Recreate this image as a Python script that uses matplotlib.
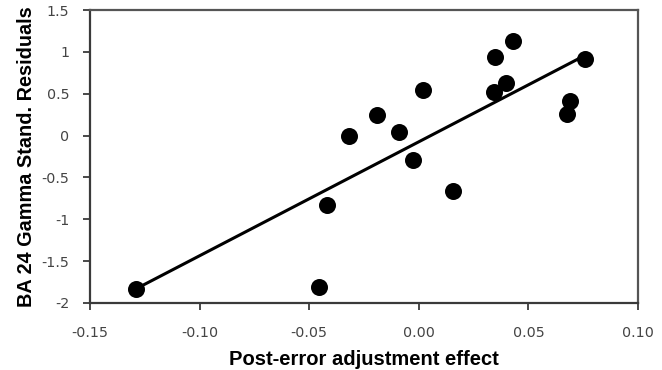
import matplotlib
matplotlib.use("Agg")
import matplotlib.pyplot as plt
import numpy as np

x_vals = [-0.129, -0.0455, -0.042, -0.0317, -0.0192, -0.009, -0.0028, 0.0021,
          0.0155, 0.0342, 0.0349, 0.0398, 0.0428, 0.0675, 0.0691, 0.076]
y_vals = [-1.83, -1.805, -0.83, -0.001, 0.243, 0.043, -0.292, 0.545,
          -0.662, 0.517, 0.935, 0.625, 1.134, 0.258, 0.413, 0.915]
x_ticks = [-0.15, -0.10, -0.05, 0.00, 0.05, 0.10]
x_tick_labels = ["-0.15", "-0.10", "-0.05", "0.00", "0.05", "0.10"]
y_ticks = [-2, -1.5, -1, -0.5, 0, 0.5, 1, 1.5]
y_tick_labels = ["-2", "-1.5", "-1", "-0.5", "0", "0.5", "1", "1.5"]

plt.rcParams['font.family'] = ['Liberation Sans', 'DejaVu Sans']

fig = plt.figure(figsize=(6.62, 3.70), dpi=100)
ax = fig.add_axes([90/662, 1-303/370, 548/662, 293/370])

x = np.array(x_vals)
y = np.array(y_vals)
slope, intercept = np.polyfit(x, y, 1)
xl = np.array([x.min(), x.max()])
ax.plot(xl, slope*xl + intercept, color='black', lw=2.2, zorder=2)
ax.scatter(x, y, s=150, color='black', zorder=3, linewidths=0)

ax.set_xlim(-0.15, 0.10)
ax.set_ylim(-2, 1.5)
ax.set_xticks(x_ticks)
ax.set_xticklabels(x_tick_labels)
ax.set_yticks(y_ticks)
ax.set_yticklabels(y_tick_labels)
for name, s in ax.spines.items():
    s.set_color('#3a3a3a' if name in ('left', 'bottom') else '#555555')
    s.set_linewidth(1.6)
ax.tick_params(direction='out', length=5, width=1.3, color='#3a3a3a',
               labelsize=10.3, labelcolor='#444444')
ax.tick_params(axis='x', pad=11.5)
ax.tick_params(axis='y', pad=10)
for lab in ax.get_xticklabels() + ax.get_yticklabels():
    lab.set_family('DejaVu Sans')
ax.set_xlabel('Post-error adjustment effect', fontsize=14.5, fontweight='bold', labelpad=7)
ax.set_ylabel('BA 24 Gamma Stand. Residuals', fontsize=14.3, fontweight='bold', labelpad=4)

fig.savefig('out.png', dpi=100)
